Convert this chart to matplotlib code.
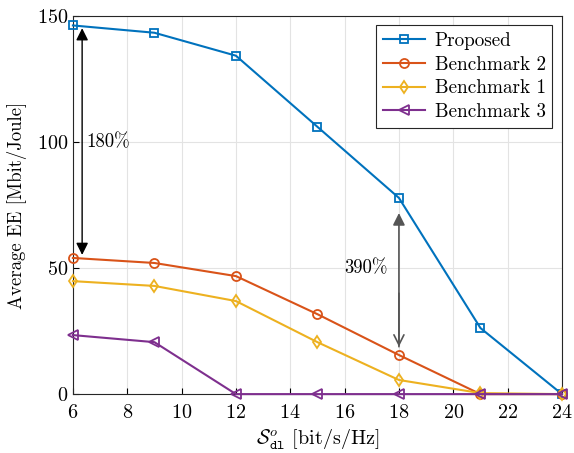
import matplotlib.pyplot as plt
import numpy as np

plt.rcParams['font.family'] = 'cmr10'
plt.rcParams['mathtext.fontset'] = 'cm'
plt.rcParams['axes.formatter.use_mathtext'] = True

x = [6, 9, 12, 15, 18, 21, 24]
proposed = [146.2, 143.3, 134.2, 106, 77.8, 26.2, 0]
bench2 = [54, 52, 46.8, 31.7, 15.5, 0, 0]
bench1 = [44.8, 42.9, 36.9, 20.6, 5.6, 0.4, 0]
bench3 = [23.4, 20.6, 0, 0, 0, 0, 0]

fig = plt.figure(figsize=(5.74, 4.53), dpi=100)
ax = fig.add_axes([0.127, 0.130, 0.852, 0.835])

style = dict(mfc="none", mew=1.3, lw=1.5, clip_on=False, zorder=3)
ax.plot(x, proposed, color="#0072BD", marker="s", ms=5.5, label="Proposed", **style)
ax.plot(x, bench2, color="#D95319", marker="o", ms=6.5, label="Benchmark 2", **style)
ax.plot(x, bench1, color="#EDB120", marker="d", ms=6.5, label="Benchmark 1", **style)
ax.plot(x, bench3, color="#7E2F8E", marker="<", ms=6.5, label="Benchmark 3", **style)

# gain arrows
ax.annotate("", xy=(6.34, 145.1), xytext=(6.34, 55.2),
            arrowprops=dict(arrowstyle="<|-|>", color="black", lw=1.0, mutation_scale=18, shrinkA=0, shrinkB=0))
ax.text(6.5, 100, "180%", fontsize=13.5, va="center", ha="left")
ax.annotate("", xy=(18.0, 71.8), xytext=(18.0, 18.8),
            arrowprops=dict(arrowstyle="-|>", color="#555555", lw=1.2, mutation_scale=18, shrinkA=0, shrinkB=0))
ax.annotate("", xy=(18.0, 18.8), xytext=(18.0, 40),
            arrowprops=dict(arrowstyle="->", color="#555555", lw=1.2, mutation_scale=18, shrinkA=0, shrinkB=0))
ax.text(16.77, 50, "390%", fontsize=13.5, va="center", ha="center")

ax.set_xlim(6, 24)
ax.set_ylim(0, 150)
ax.set_xticks(np.arange(6, 25, 2))
ax.set_yticks([0, 50, 100, 150])
ax.grid(True, color="#e3e3e3", lw=0.8)
ax.set_axisbelow(True)
ax.tick_params(direction="in", labelsize=14.5, length=4, top=False, right=False)
ax.tick_params(axis="x", pad=7)
for s in ax.spines.values():
    s.set_color("#262626")
    s.set_linewidth(0.8)

ax.set_xlabel(r"$\mathcal{S}_{\mathtt{dl}}^{o}$ [bit/s/Hz]", fontsize=14.5, labelpad=4)
ax.set_ylabel("Average EE [Mbit/Joule]", fontsize=13.5, labelpad=7)

leg = ax.legend(loc="upper right", fontsize=13.8, fancybox=False, edgecolor="#262626",
                framealpha=1, borderaxespad=0.5, handlelength=2.2, labelspacing=0.3,
                borderpad=0.35, handletextpad=0.5)
leg.get_frame().set_linewidth(0.8)

fig.savefig("out.png", dpi=100)
